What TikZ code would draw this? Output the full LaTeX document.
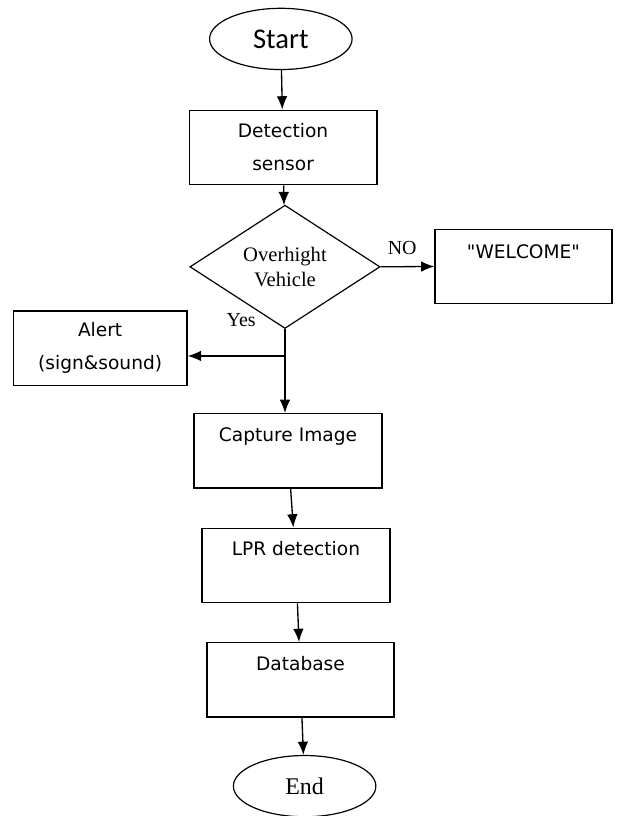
\documentclass[tikz,border=0pt]{standalone}
\usepackage{fontspec}
\setmainfont{Liberation Serif}
\newfontfamily\boxfont{DejaVu Sans}
\newfontfamily\calfont{Carlito}
\usepackage{tikz}
\usetikzlibrary{shapes,arrows.meta,positioning,calc}

\begin{document}
\begin{tikzpicture}[
  box/.style={rectangle, draw, line width=1pt, minimum height=1.97cm,
    minimum width=4.97cm, align=center, inner sep=2pt,
    font=\boxfont\fontsize{14}{25}\selectfont},
  topbox/.style={box, text height=0.35cm, text depth=0.87cm},
  term/.style={ellipse, draw, line width=0.9pt, minimum width=3.77cm,
    minimum height=1.62cm},
  decision/.style={diamond, draw, line width=0.9pt, minimum width=5.03cm,
    minimum height=2.22cm, inner sep=0pt, align=center,
    font=\fontsize{15.5}{19}\selectfont},
  arrow/.style={-{Latex[length=10pt,width=8pt]}, line width=1pt},
  lbl/.style={font=\fontsize{15}{18}\selectfont}
]
  \useasboundingbox (0,0) rectangle (16.51,21.59);

  % Start and sensor
  \node[term, font=\calfont\fontsize{21.5}{24}\selectfont] (start) at (7.43,20.56) {Start};
  \node[box] (sensor) at (7.49,17.69) {Detection\\sensor};

  % Height check
  \node[decision] (check) at (7.54,14.53) {Overhight\\Vehicle};
  \node[topbox, minimum width=4.68cm, text depth=0.75cm] (welcome) at (13.85,14.54) {"WELCOME"};
  \node[box, minimum width=4.6cm] (alert) at (2.65,12.38) {Alert\\(sign\&sound)};
  \node[lbl] (no) at (10.64,15.03) {NO};
  \node[lbl] (yes) at (6.38,13.12) {Yes};

  % Processing
  \node[topbox] (capture) at (7.62,9.66) {Capture Image};
  \node[topbox] (lpr) at (7.83,6.63) {LPR detection};
  \node[topbox, minimum width=4.95cm] (db) at (7.95,3.60) {Database};
  \node[term, font=\fontsize{18}{22}\selectfont] (end) at (8.06,0.79) {End};

  % Arrows
  \draw[arrow] (start) -- (sensor);
  \draw[arrow] (sensor) -- (check);
  \draw[arrow] (check.east) -- (welcome.west);
  \draw[arrow] (check.south) -- (check.south |- capture.north);
  \coordinate (split) at ($(check.south)!0.32!(check.south |- capture.north)$);
  \draw[arrow] (split) -- (split -| alert.east);
  \draw[arrow] (capture) -- (lpr);
  \draw[arrow] (lpr) -- (db);
  \draw[arrow] (db) -- (end);
\end{tikzpicture}
\end{document}
